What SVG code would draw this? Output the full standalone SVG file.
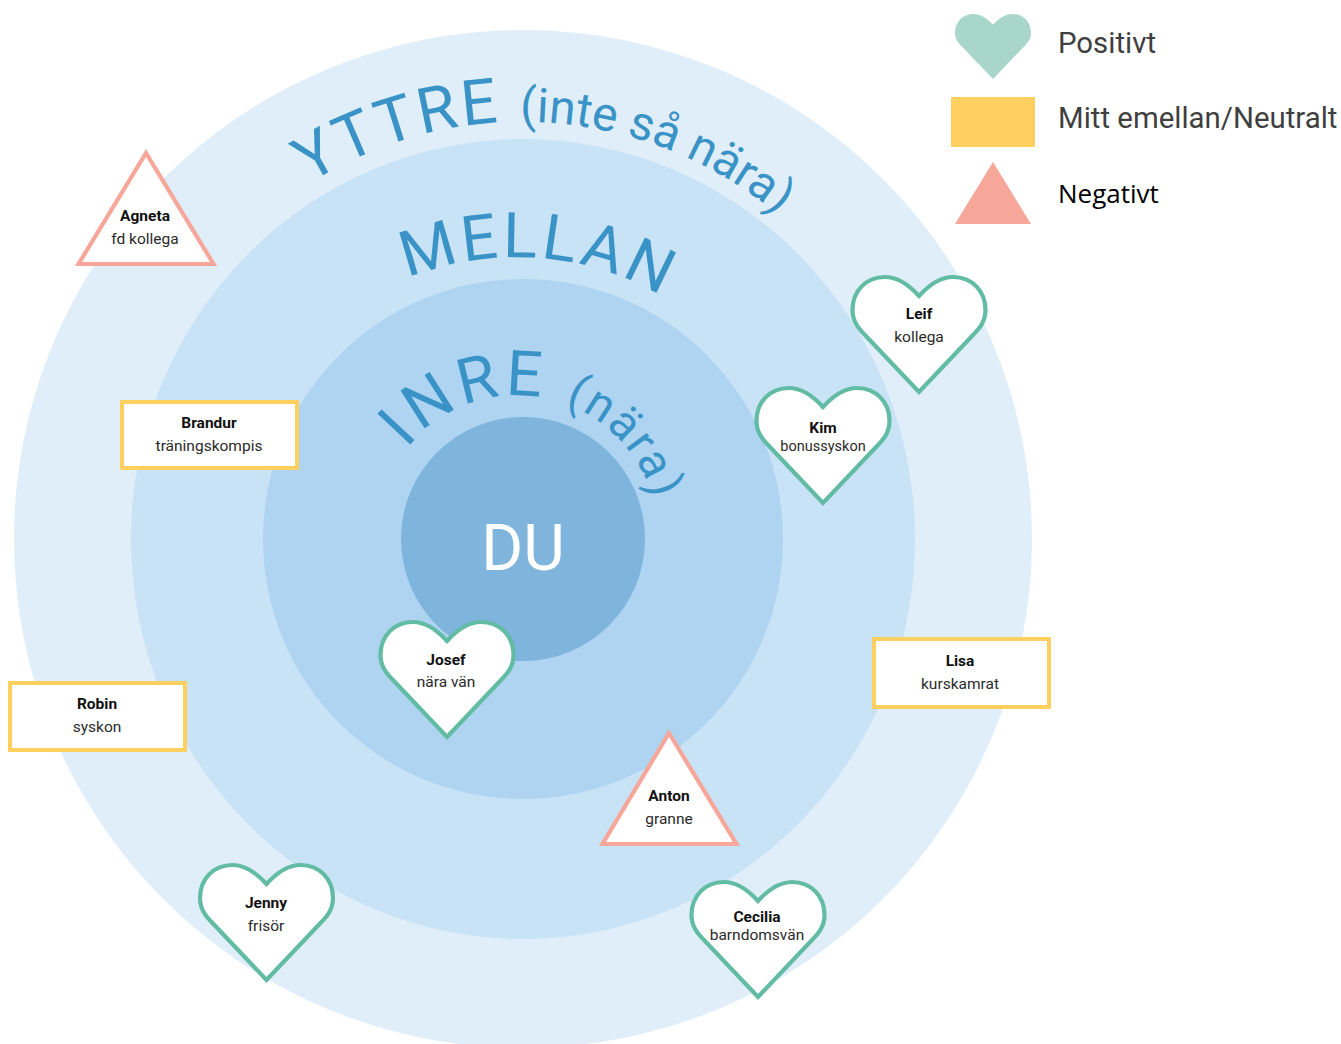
<svg xmlns="http://www.w3.org/2000/svg" width="1341" height="1044" viewBox="0 0 1341 1044">
<style>
text{font-family:Roboto,"Liberation Sans",sans-serif}
.h{fill:#fff;stroke:#62BBA3;stroke-width:4.2}
.r{fill:#fff;stroke:#FFD05F;stroke-width:4}
.t{fill:#fff;stroke:#F6A79A;stroke-width:4.2}
.n{font-size:15.5px;font-weight:700;fill:#111;text-anchor:middle}
.s{font-size:15.5px;fill:#2b2b2b;text-anchor:middle}
.a{font-size:63px;fill:#3A93C6}
.b{font-size:47.8px}
.l{font-size:29.4px;fill:#3f3f3f}
</style>
<defs>
<path id="heart" d="M0 19C-10 8-22 0-34 0C-53 0-66.5 14-66.5 33C-66.5 44-61 51-54 58L0 115L54 58C61 51 66.5 44 66.5 33C66.5 14 53 0 34 0C22 0 10 8 0 19Z"/>
<path id="p1" d="M307 185A398 398 0 0 1 827 264"/>
<path id="p2" d="M407.6 278.5A290 290 0 0 1 703 325"/>
<path id="p3" d="M405 451A141 141 0 0 1 656 512.5"/>
</defs>
<rect width="1341" height="1044" fill="#fff"/>
<g id="rings">
<circle cx="523" cy="539" r="509" fill="#E0EEF9"/>
<ellipse cx="523" cy="539" rx="392" ry="400" fill="#C8E2F6"/>
<circle cx="523" cy="539" r="260" fill="#AED4F2"/>
<circle cx="523" cy="539" r="122" fill="#7FB4DD"/>
</g>
<g id="ring-labels">
<text class="a"><textPath href="#p1" startOffset="3" letter-spacing="3">YTTRE</textPath><textPath href="#p1" startOffset="225" class="b">(inte så nära)</textPath></text>
<text class="a" letter-spacing="3.5"><textPath href="#p2">MELLAN</textPath></text>
<text class="a"><textPath href="#p3" startOffset="3" letter-spacing="4.5">INRE</textPath><textPath href="#p3" startOffset="178" class="b" style="font-size:47px" letter-spacing="2">(nära)</textPath></text>
<text x="523" y="570" font-size="64" fill="#fff" text-anchor="middle">DU</text>
</g>
<g id="connectors"/>
<g id="legend">
<use href="#heart" transform="translate(993 14) scale(.571 .565)" fill="#A8D6CA"/>
<rect x="951" y="97" width="84" height="50" fill="#FFCF5F"/>
<path d="M993 162L1031 224H955Z" fill="#F6A79A"/>
<text class="l" x="1058" y="53">Positivt</text>
<text class="l" x="1058" y="128">Mitt emellan/Neutralt</text>
<text x="1058" y="203" font-size="26" fill="#000" style="font-family:'Open Sans',sans-serif">Negativt</text>
</g>
<g id="agneta"><path class="t" d="M146 153L213.5 264H78.5Z"/><text class="n" x="145" y="221">Agneta</text><text class="s" x="145" y="244">fd kollega</text></g>
<g id="brandur"><rect class="r" x="122" y="402" width="175" height="66"/><text class="n" x="209" y="428">Brandur</text><text class="s" x="209" y="451">träningskompis</text></g>
<g id="robin"><rect class="r" x="10" y="683" width="175" height="67"/><text class="n" x="97" y="709">Robin</text><text class="s" x="97" y="732">syskon</text></g>
<g id="lisa"><rect class="r" x="874" y="639" width="175" height="68"/><text class="n" x="960" y="666">Lisa</text><text class="s" x="960" y="689">kurskamrat</text></g>
<g id="anton"><path class="t" d="M669 733L736.5 844H602.5Z"/><text class="n" x="669" y="801">Anton</text><text class="s" x="669" y="824">granne</text></g>
<g id="leif"><use class="h" href="#heart" x="919" y="277"/><text class="n" x="919" y="319">Leif</text><text class="s" x="919" y="342">kollega</text></g>
<g id="kim"><use class="h" href="#heart" x="823" y="388"/><text class="n" x="823" y="433">Kim</text><text class="s" x="823" y="451" style="font-size:14.5px">bonussyskon</text></g>
<g id="josef"><use class="h" href="#heart" x="447" y="622"/><text class="n" x="446" y="665">Josef</text><text class="s" x="446" y="687">nära vän</text></g>
<g id="jenny"><use class="h" href="#heart" x="266.5" y="865"/><text class="n" x="266" y="908">Jenny</text><text class="s" x="266" y="931">frisör</text></g>
<g id="cecilia"><use class="h" href="#heart" x="758" y="882"/><text class="n" x="757" y="922">Cecilia</text><text class="s" x="757" y="940">barndomsvän</text></g>
</svg>
